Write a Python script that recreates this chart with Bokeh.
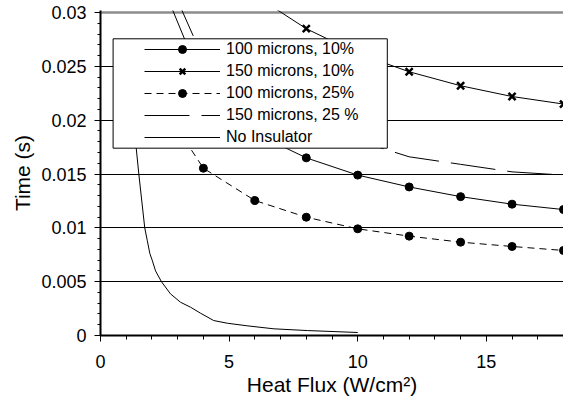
from bokeh.plotting import figure
from bokeh.models import (FixedTicker, SingleIntervalTicker, Legend, LegendItem,
                          BoxAnnotation, Grid, Range1d, Title)
from bokeh.embed import file_html
from bokeh.resources import INLINE

# ---- data ----
heat_flux = [2, 4, 6, 8, 10, 12, 14, 16, 18]
t_100um_10 = [0.0349, 0.0233, 0.0188, 0.0165, 0.0149, 0.0138, 0.0129, 0.0122, 0.0117]
t_100um_25 = [0.0228, 0.01554, 0.01254, 0.01099, 0.00991, 0.00923, 0.00867, 0.00827, 0.0079]
t_150um_25 = [0.0365, 0.0257, 0.0222, 0.0199, 0.0181, 0.0166, 0.0159, 0.0152, 0.0149]

heat_flux_150_10 = [6, 8, 10, 12, 14, 16, 18]
t_150um_10 = [0.0316, 0.0285, 0.0262, 0.0245, 0.0232, 0.0222, 0.0215]

no_ins_flux = [1.25, 1.36, 1.49, 1.72, 1.82, 1.92, 2.01, 2.14, 2.37, 2.72, 3.11, 3.5,
               3.89, 4.4, 4.93, 5.7, 6.74, 8.04, 10.0]
no_ins_time = [0.0214, 0.0181, 0.0150, 0.0100, 0.0088, 0.0076, 0.0070, 0.0060, 0.0050,
               0.00387, 0.00309, 0.00263, 0.00207, 0.00139, 0.00114, 0.0009, 0.00062,
               0.00046, 0.00028]

series_labels = ["100 microns, 10%", "150 microns, 10%", "100 microns, 25%",
                 "150 microns, 25 %", "No Insulator"]
x_title = "Heat Flux (W/cm²)"
y_title = "Time (s)"
y_ticks = [0, 0.005, 0.01, 0.015, 0.02, 0.025, 0.03]
y_tick_labels = ["0", "0.005", "0.01", "0.015", "0.02", "0.025", "0.03"]
y_minor_ticks = [i / 1000 for i in range(31)]

p = figure(width=563, height=402, output_backend="svg", toolbar_location=None,
           x_range=Range1d(0, 18), y_range=Range1d(0, 0.03019),
           min_border_left=100, min_border_right=0, min_border_top=10, min_border_bottom=67)
p.outline_line_color = None
p.background_fill_color = "white"
p.border_fill_color = "white"

# grid
p.xgrid.visible = False
p.ygrid.ticker = FixedTicker(ticks=y_ticks[:-1])
p.ygrid.grid_line_color = "black"
p.ygrid.grid_line_width = 1
p.ygrid.grid_line_alpha = 1
# grey top border line of the plot area
p.add_layout(Grid(dimension=1, ticker=FixedTicker(ticks=y_ticks[-1:]),
                  grid_line_color="#8c8c8c", grid_line_width=2.5))
# black line along the left edge of the plot area
p.add_layout(Grid(dimension=0, ticker=FixedTicker(ticks=[0]),
                  grid_line_color="black", grid_line_width=2))

# series
r1l = p.line(heat_flux, t_100um_10, line_color="black", line_width=1)
r1m = p.scatter(heat_flux, t_100um_10, marker="circle", size=8,
                fill_color="black", line_color="black")
r2l = p.line(heat_flux_150_10, t_150um_10, line_color="black", line_width=1)
r2m = p.scatter(heat_flux_150_10, t_150um_10, marker="x", size=10,
                line_color="black", line_width=2.5)
r3l = p.line(heat_flux, t_100um_25, line_color="black", line_width=1, line_dash="7 5")
r3m = p.scatter(heat_flux, t_100um_25, marker="circle", size=8,
                fill_color="black", line_color="black")
r4l = p.line(heat_flux, t_150um_25, line_color="black", line_width=1, line_dash="45 12")
r5l = p.line(no_ins_flux, no_ins_time, line_color="black", line_width=1)

# legend box + legend
box = BoxAnnotation(left=0.49, right=11.15, bottom=0.0174, top=0.02756,
                    fill_color="white", fill_alpha=1, line_color="black",
                    line_width=1, line_alpha=1)
p.add_layout(box)

legend = Legend(items=[
    LegendItem(label=series_labels[0], renderers=[r1l, r1m]),
    LegendItem(label=series_labels[1], renderers=[r2l, r2m]),
    LegendItem(label=series_labels[2], renderers=[r3l, r3m]),
    LegendItem(label=series_labels[3], renderers=[r4l]),
    LegendItem(label=series_labels[4], renderers=[r5l]),
], location=(44, 188), orientation="vertical", padding=0, margin=0, spacing=2,
   label_height=20, glyph_height=20, glyph_width=76, label_standoff=6,
   border_line_alpha=0, background_fill_alpha=0,
   label_text_font_size="16px", label_text_color="black")
p.add_layout(legend)

# axes (no axis_label; titles are added as separate side annotations)
p.xaxis.ticker = SingleIntervalTicker(interval=5, num_minor_ticks=5)
p.yaxis.ticker = FixedTicker(ticks=y_ticks, minor_ticks=y_minor_ticks)
p.yaxis.major_label_overrides = dict(zip(y_ticks, y_tick_labels))

for ax in (p.xaxis[0], p.yaxis[0]):
    ax.axis_line_color = "black"
    ax.axis_line_width = 2
    ax.major_tick_line_color = "black"
    ax.minor_tick_line_color = "black"
    ax.major_tick_out = 6
    ax.major_tick_in = 0
    ax.minor_tick_in = 0
    ax.major_label_text_font_size = "18px"
    ax.major_label_text_color = "black"

p.xaxis.minor_tick_out = 4
p.yaxis.minor_tick_out = 3
p.xaxis.major_label_standoff = 13
p.yaxis.major_label_standoff = 8

# axis titles
p.add_layout(Title(text=x_title, align="center", text_font_size="21px",
                   text_font_style="normal", text_color="black", standoff=0), "below")
p.add_layout(Title(text=y_title, align="center", text_font_size="21px",
                   text_font_style="normal", text_color="black", standoff=10), "left")

open("out.html", "w").write(file_html(p, INLINE))
